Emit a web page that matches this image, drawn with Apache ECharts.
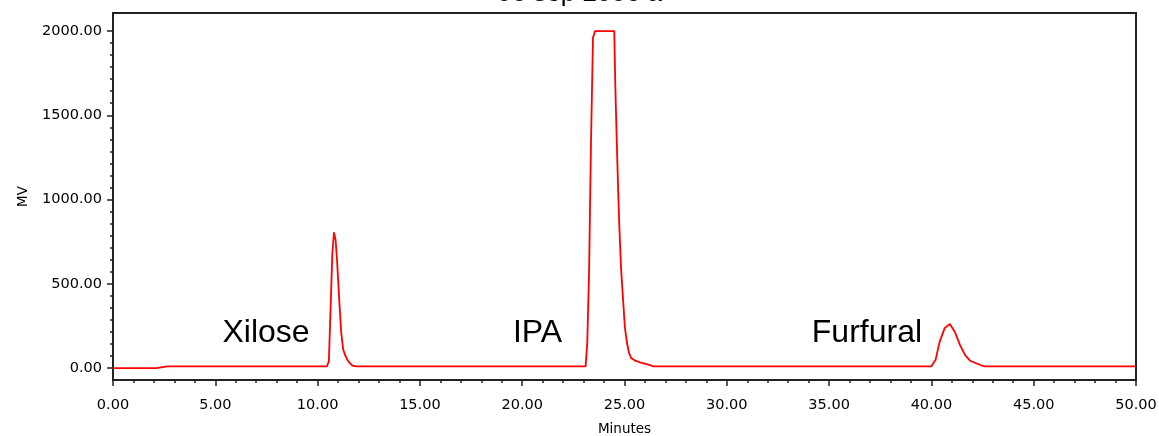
<!DOCTYPE html>
<html>
<head>
<meta charset="utf-8">
<script src="https://cdn.jsdelivr.net/npm/echarts@6/dist/echarts.min.js"></script>
<style>
  html, body { margin: 0; padding: 0; background: #fff; }
  #chart { width: 1159px; height: 436px; }
</style>
</head>
<body>
<div id="chart"></div>
<script>
// Chromatogram trace: retention time (minutes) and detector signal (mV)
const times = [
  0, 2.12, 2.14, 2.65, 2.7, 2.75, 3.45, 3.5, 3.55,
  10.45, 10.55, 10.62, 10.72, 10.8, 10.84, 10.88, 10.95, 11.05, 11.15, 11.25, 11.35, 11.5, 11.7, 11.9,
  23.1, 23.18, 23.27, 23.36, 23.46, 23.56, 24.5, 24.55, 24.63, 24.73, 24.83, 24.93, 25.02, 25.12, 25.22, 25.32, 25.55, 25.85, 26.25, 26.4,
  40.0, 40.2, 40.4, 40.65, 40.9, 41.15, 41.4, 41.65, 41.9, 42.15, 42.4, 42.6,
  50
];
const signal = [
  0, 0, 10, 10, 4, 10, 10, 5, 10,
  10, 40, 300, 680, 805, 810, 760, 640, 420, 215, 110, 75, 40, 15, 10,
  10, 150, 580, 1320, 1960, 2000, 2000, 1680, 1305, 895, 595, 405, 240, 150, 90, 60, 42, 30, 18, 10,
  10, 47, 154, 237, 261, 214, 136, 77, 43, 30, 18, 10,
  10
];

// Peak names and where their labels sit (minutes, mV)
const peakNames = ['Xilose', 'IPA', 'Furfural'];
const peakLabelTimes = [7.48, 20.75, 36.85];
const peakLabelLevels = [208, 208, 208];

const xTicks = [0, 5, 10, 15, 20, 25, 30, 35, 40, 45, 50];
const yTicks = [0, 500, 1000, 1500, 2000];

const traceData = times.map((t, i) => [t, signal[i]]);
const labelData = peakNames.map((n, i) => ({ name: n, value: [peakLabelTimes[i], peakLabelLevels[i]] }));

// minor ticks on the signal axis: seven steps between labelled values
const yMinor = [];
for (let k = 1; k < 28; k++) {
  if (k % 7 !== 0) yMinor.push(k * 500 / 7);
}

const tickFont = { fontFamily: '"DejaVu Sans", sans-serif', fontSize: 14.5, color: '#000' };
const nameFont = { fontFamily: '"DejaVu Sans", sans-serif', fontSize: 13.5, color: '#000' };
const lineStyle = { color: '#222', width: 2 };

const chart = echarts.init(document.getElementById('chart'), null, { renderer: 'canvas' });
chart.setOption({
  animation: false,
  backgroundColor: '#fff',
  grid: {
    left: 113, right: 23, top: 13, bottom: 56,
    outerBoundsMode: 'none',
    containLabel: false,
    show: true, borderColor: '#222', borderWidth: 2, backgroundColor: 'transparent'
  },
  graphic: [{
    type: 'text',
    left: 'center',
    top: -19,
    style: {
      text: '06 sep 2006 a',
      font: '26px "Liberation Sans", Arial, sans-serif',
      fill: '#000'
    }
  }],
  xAxis: {
    type: 'value',
    min: 0, max: 50, interval: 5,
    name: 'Minutes',
    nameLocation: 'middle',
    nameGap: 42,
    nameTextStyle: nameFont,
    axisLine: { show: true, onZero: false, lineStyle: lineStyle },
    axisTick: { show: true, length: 6, lineStyle: { color: '#222', width: 1.5 } },
    minorTick: { show: true, splitNumber: 5, length: 3, lineStyle: { color: '#222', width: 1.5 } },
    axisLabel: Object.assign({ margin: 18, formatter: v => v.toFixed(2) }, tickFont),
    splitLine: { show: false }
  },
  yAxis: [{
    type: 'value',
    min: -71, max: 2107,
    name: 'MV',
    nameLocation: 'middle',
    nameRotate: 90,
    nameGap: 83,
    nameTextStyle: nameFont,
    axisLine: { show: true, onZero: false, lineStyle: lineStyle },
    axisTick: { show: true, length: 6, customValues: yTicks, lineStyle: { color: '#222', width: 1.5 } },
    axisLabel: Object.assign({ margin: 11, customValues: yTicks, formatter: v => v.toFixed(2) }, tickFont),
    splitLine: { show: false }
  }, {
    type: 'value',
    min: -71, max: 2107,
    position: 'left',
    axisLine: { show: false },
    axisTick: { show: true, length: 3, customValues: yMinor, lineStyle: { color: '#222', width: 1.5 } },
    axisLabel: { show: false },
    splitLine: { show: false }
  }],
  series: [{
    type: 'line',
    data: traceData,
    showSymbol: false,
    symbol: 'none',
    lineStyle: { color: '#ff0000', width: 1.8 },
    z: 3
  }, {
    type: 'scatter',
    data: labelData,
    symbolSize: 0,
    silent: true,
    itemStyle: { opacity: 1 },
    label: {
      show: true,
      position: [0, 0],
      align: 'center',
      verticalAlign: 'middle',
      formatter: p => p.name,
      fontFamily: '"Liberation Sans", Arial, sans-serif',
      fontSize: 32,
      color: '#000000',
      opacity: 1,
      textBorderWidth: 0
    },
    z: 4
  }]
});
</script>
</body>
</html>
